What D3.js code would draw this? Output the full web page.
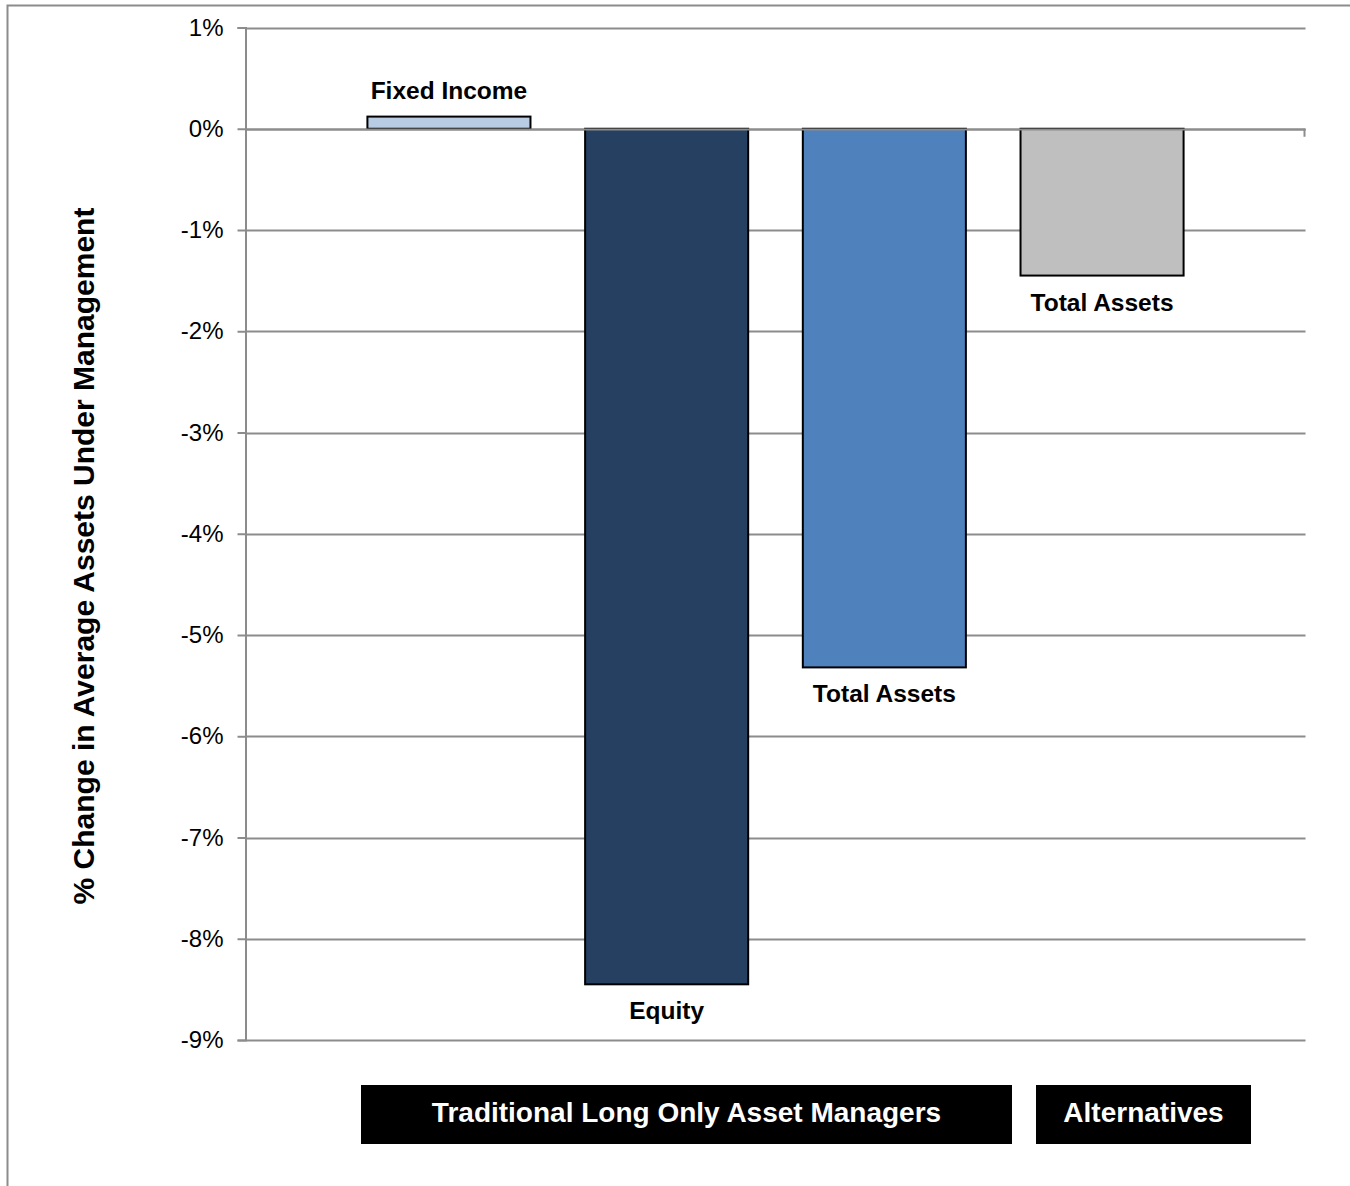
<!DOCTYPE html>
<html>
<head>
<meta charset="utf-8">
<script src="https://cdn.jsdelivr.net/npm/d3@7"></script>
<style>
  html, body { margin: 0; padding: 0; background: #fff; }
  svg { display: block; font-family: "Liberation Sans", Arial, sans-serif; }
</style>
</head>
<body>
<svg id="chart" width="1350" height="1186"></svg>
<script>
const categories = ["Fixed Income", "Equity", "Total Assets", "Total Assets (Alt)"];
const labels = ["Fixed Income", "Equity", "Total Assets", "Total Assets"];
const values = [0.12, -8.45, -5.32, -1.45];
const colors = ["#b8cce4", "#254061", "#4f81bd", "#bfbfbf"];
const yTicks = [1, 0, -1, -2, -3, -4, -5, -6, -7, -8, -9];
const yTickLabels = ["1%", "0%", "-1%", "-2%", "-3%", "-4%", "-5%", "-6%", "-7%", "-8%", "-9%"];
const groups = ["Traditional Long Only Asset Managers", "Alternatives"];
const yTitle = "% Change in Average Assets Under Management";

(function () {
const svg = d3.select("#chart");
const plotL = 245.5, plotR = 1305.5, plotT = 27.5, plotB = 1040;

// outer frame
svg.append("path")
  .attr("d", "M7.5,1186 L7.5,5.5 L1350,5.5")
  .attr("fill", "none").attr("stroke", "#8c8c8c").attr("stroke-width", 2);

const y = d3.scaleLinear().domain([1, -9]).range([plotT, plotB]);
const x = d3.scaleBand().domain(categories).range([plotL, plotR])
  .paddingInner(0.251).paddingOuter(0.56);

// gridlines
svg.append("g").selectAll("line").data(yTicks).join("line")
  .attr("x1", plotL).attr("x2", plotR)
  .attr("y1", d => Math.round(y(d)) + 0.5).attr("y2", d => Math.round(y(d)) + 0.5)
  .attr("stroke", "#8c8c8c").attr("stroke-width", 2);

// y axis
const yAxis = d3.axisLeft(y).tickValues(yTicks)
  .tickFormat((d, i) => yTickLabels[i]).tickSize(8).tickPadding(14);
const gy = svg.append("g").attr("transform", `translate(${plotL},0)`).call(yAxis);
gy.select(".domain").attr("stroke", "#8c8c8c").attr("stroke-width", 2);
gy.selectAll(".tick line").attr("stroke", "#8c8c8c").attr("stroke-width", 2);
gy.selectAll(".tick text").attr("font-size", 24).attr("fill", "#000")
  .attr("font-family", "Liberation Sans, Arial, sans-serif");

// bars
svg.append("g").selectAll("rect").data(values).join("rect")
  .attr("x", (d, i) => x(categories[i]))
  .attr("width", x.bandwidth())
  .attr("y", d => y(Math.max(0, d)))
  .attr("height", d => Math.abs(y(d) - y(0)))
  .attr("fill", (d, i) => colors[i])
  .attr("stroke", "#000").attr("stroke-width", 2);

// zero line on top + right end tick
svg.append("line").attr("x1", plotL).attr("x2", plotR)
  .attr("y1", Math.round(y(0)) + 0.5).attr("y2", Math.round(y(0)) + 0.5)
  .attr("stroke", "#8c8c8c").attr("stroke-width", 2);
svg.append("line").attr("x1", plotR - 1).attr("x2", plotR - 1)
  .attr("y1", y(0)).attr("y2", y(0) + 8)
  .attr("stroke", "#8c8c8c").attr("stroke-width", 2);

// bar labels
svg.append("g").selectAll("text").data(values).join("text")
  .attr("x", (d, i) => x(categories[i]) + x.bandwidth() / 2)
  .attr("y", d => d >= 0 ? y(d) - 18 : y(d) + 35)
  .attr("text-anchor", "middle")
  .attr("font-size", 24.5).attr("font-weight", "bold").attr("fill", "#000")
  .text((d, i) => labels[i]);

// y title
svg.append("text")
  .attr("transform", `translate(94,${(205 + 907) / 2}) rotate(-90)`)
  .attr("text-anchor", "middle")
  .attr("font-size", 30).attr("font-weight", "bold").attr("fill", "#000")
  .text(yTitle);

// group boxes
const boxExtents = [[361, 1012], [1036, 1251]];
groups.forEach((g, i) => {
  const [x0, x1] = boxExtents[i];
  svg.append("rect").attr("x", x0).attr("y", 1085).attr("width", x1 - x0).attr("height", 59)
    .attr("fill", "#000");
  svg.append("text").attr("x", (x0 + x1) / 2).attr("y", 1122)
    .attr("text-anchor", "middle").attr("font-size", 28).attr("font-weight", "bold")
    .attr("fill", "#fff").text(g);
});
})();
</script>
</body>
</html>
